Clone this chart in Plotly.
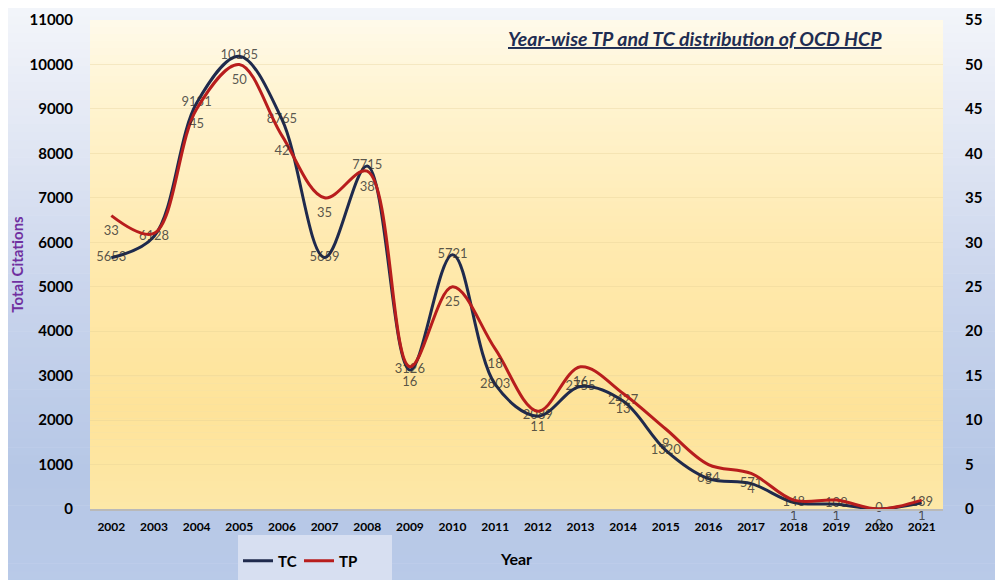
import plotly.graph_objects as go

years = [str(y) for y in range(2002, 2022)]
tc = [5653, 6128, 9131, 10185, 8765, 5659, 7715, 3126, 5721, 2803,
      2089, 2755, 2427, 1320, 684, 571, 148, 108, 0, 139]
tp = [33, 31, 45, 50, 42, 35, 38, 16, 25, 18,
      11, 16, 13, 9, 5, 4, 1, 1, 0, 1]
# data labels as shown on the reference (the 2003 TP label is not displayed there)
tc_labels = [str(v) for v in tc]
tp_labels = ["33", "", "45", "50", "42", "35", "38", "16", "25", "18",
             "11", "16", "13", "9", "5", "4", "1", "1", "0", "1"]

TC_COLOR = "#1f2a4d"
TP_COLOR = "#b81d1d"
LABEL_COLOR = "rgba(45,45,45,0.80)"
FONT = "Lato"

# figure geometry (page is offset by 8px body margin)
OFF = 8
W, H = 1003, 580
ML, MR, MT, MB = 82, 68, 12, 79
PW, PH = W - ML - MR, H - MT - MB


def px_x(px):
    """page x pixel -> paper coordinate"""
    return (px - OFF - ML) / PW


def px_y(py):
    """page y pixel -> paper coordinate"""
    return (H - MB - (py - OFF)) / PH


def hex_to_rgb(h):
    h = h.lstrip("#")
    return tuple(int(h[i:i + 2], 16) for i in (0, 2, 4))


def interp(stops, t):
    for (t0, c0), (t1, c1) in zip(stops, stops[1:]):
        if t0 <= t <= t1:
            f = 0 if t1 == t0 else (t - t0) / (t1 - t0)
            a, b = hex_to_rgb(c0), hex_to_rgb(c1)
            return "rgb(%d,%d,%d)" % tuple(round(a[i] + (b[i] - a[i]) * f) for i in range(3))
    return stops[-1][1]


def gradient_bands(x0, x1, y_top, y_bot, stops, n=60):
    shapes = []
    step = (y_bot - y_top) / n
    for i in range(n):
        ya = y_top + i * step
        yb = ya + step + 0.6
        col = interp(stops, (ya + step / 2 - y_top) / (y_bot - y_top))
        shapes.append(dict(type="rect", xref="paper", yref="paper",
                           x0=px_x(x0), x1=px_x(x1), y0=px_y(yb), y1=px_y(ya),
                           fillcolor=col, line=dict(width=0), layer="below"))
    return shapes


shapes = []
# outer blue-ish background (whole figure)
shapes += gradient_bands(OFF, OFF + W, OFF, OFF + H,
                         [(0, "#f3f5fa"), (0.25, "#dfe5f3"), (0.5, "#c8d4ec"),
                          (0.8, "#b6c7e6"), (1, "#b9cae8")], n=70)
# plot area yellow gradient
shapes += gradient_bands(90, 943, 20, 509,
                         [(0, "#fffaea"), (0.15, "#fff4d2"), (0.45, "#ffeab0"),
                          (0.8, "#fee399"), (1, "#fde8a8")], n=70)
# legend box
shapes.append(dict(type="rect", xref="paper", yref="paper",
                   x0=px_x(238), x1=px_x(392), y0=px_y(590), y1=px_y(535),
                   fillcolor="#d7dff1", line=dict(width=0), layer="below"))

fig = go.Figure()
fig.add_trace(go.Scatter(x=years, y=tc, mode="lines", name="TC", yaxis="y",
                         line=dict(color=TC_COLOR, width=3, shape="spline", smoothing=1.0)))
fig.add_trace(go.Scatter(x=years, y=tp, mode="lines", name="TP", yaxis="y2",
                         line=dict(color=TP_COLOR, width=3, shape="spline", smoothing=1.0)))
fig.add_trace(go.Scatter(x=years, y=tc, mode="text", text=tc_labels, yaxis="y",
                         textposition="middle center", showlegend=False, cliponaxis=False,
                         textfont=dict(family=FONT, size=13, color=LABEL_COLOR), hoverinfo="skip"))
fig.add_trace(go.Scatter(x=years, y=tp, mode="markers+text", text=tp_labels, yaxis="y2",
                         marker=dict(size=14, color="rgba(0,0,0,0)"),
                         textposition="bottom center", showlegend=False, cliponaxis=False,
                         textfont=dict(family=FONT, size=13, color=LABEL_COLOR), hoverinfo="skip"))

fig.update_layout(
    width=W, height=H,
    margin=dict(l=ML, r=MR, t=MT, b=MB, autoexpand=False),
    paper_bgcolor="white",
    plot_bgcolor="rgba(0,0,0,0)",
    font=dict(family=FONT, color="black"),
    shapes=shapes,
    xaxis=dict(type="category", range=[-0.5, 19.5], showgrid=False, zeroline=False,
               showline=True, linecolor="#b9b9b9", linewidth=1.5, ticks="",
               tickfont=dict(family=FONT, size=12, weight="bold", color="black"),
               ticklabelstandoff=6,
               title=dict(text="Year", font=dict(family=FONT, size=16, weight="bold", color="black"),
                          standoff=21)),
    yaxis=dict(range=[0, 11000], dtick=1000, tickformat="d", showgrid=True,
               gridcolor="rgba(225,205,150,0.35)",
               zeroline=False, showline=False, ticks="", automargin=False,
               tickfont=dict(family=FONT, size=15, weight="bold", color="black"),
               ticklabelstandoff=16,
               title=dict(text="Total Citations", font=dict(family=FONT, size=15, weight="bold", color="#7030a0"),
                          standoff=24)),
    yaxis2=dict(range=[0, 55], dtick=5, overlaying="y", side="right", showgrid=False,
                zeroline=False, showline=False, ticks="", automargin=False,
                tickfont=dict(family=FONT, size=15, weight="bold", color="black"),
                ticklabelstandoff=21,
                title=dict(text="Total Pulications", font=dict(family=FONT, size=15, weight="bold", color="#7030a0"),
                           standoff=14)),
    legend=dict(orientation="h", x=px_x(238), xanchor="left", y=px_y(561), yanchor="middle",
                bgcolor="rgba(0,0,0,0)", entrywidth=16, entrywidthmode="pixels",
                font=dict(family=FONT, size=15, weight="bold", color="black")),
    annotations=[dict(text="<b><i><u>Year-wise TP and TC distribution of OCD HCP</u></i></b>",
                      xref="paper", yref="paper", x=px_x(695), y=px_y(38),
                      xanchor="center", yanchor="middle", showarrow=False,
                      font=dict(family=FONT, size=19.5, color="#1f2d52"))],
)

fig.write_html("out.html")
